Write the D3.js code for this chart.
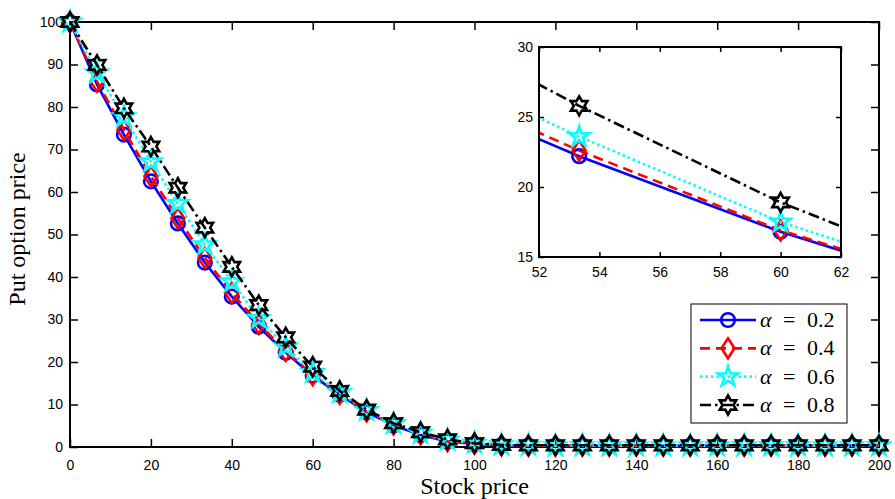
<!DOCTYPE html>
<html lang="en">
<head>
<meta charset="UTF-8">
<title>Put option price vs stock price</title>
<script src="https://d3js.org/d3.v7.min.js"></script>
<style>
  body { margin: 0; background: #fff; }
  .tick text { font-family: "Liberation Sans", Arial, sans-serif; font-size: 14px; fill: #000; }
  .tick line { stroke: #000; stroke-width: 1.5; }
  .axis-label { font-family: "Liberation Serif", "DejaVu Serif", serif; font-size: 24px; fill: #000; }
  .legend-text { font-family: "Liberation Serif", "DejaVu Serif", serif; font-size: 22px; fill: #000; }
</style>
</head>
<body>
<svg id="chart" width="895" height="499"></svg>
<script>
// grid of stock prices (200/30 spacing)
const stockPrice = [0, 6.67, 13.33, 20, 26.67, 33.33, 40, 46.67, 53.33, 60, 66.67, 73.33, 80, 86.67, 93.33, 100,
  106.67, 113.33, 120, 126.67, 133.33, 140, 146.67, 153.33, 160, 166.67, 173.33, 180, 186.67, 193.33, 200];

const alpha02 = [100, 85.3, 73.5, 62.5, 52.6, 43.4, 35.4, 28.3, 22.2, 16.8, 12.3, 8.2, 5.1, 2.8, 1.3, 0.7,
  0.4, 0.3, 0.3, 0.3, 0.3, 0.3, 0.3, 0.3, 0.3, 0.3, 0.3, 0.3, 0.3, 0.3, 0.3];
const alpha04 = [100, 86.0, 74.6, 63.7, 53.8, 44.5, 36.2, 29.0, 22.6, 16.9, 12.5, 8.4, 5.3, 3.0, 1.4, 0.8,
  0.4, 0.3, 0.3, 0.3, 0.3, 0.3, 0.3, 0.3, 0.3, 0.3, 0.3, 0.3, 0.3, 0.3, 0.3];
const alpha06 = [100, 88.0, 77.7, 67.1, 57.3, 47.6, 38.9, 30.3, 23.6, 17.5, 12.8, 8.6, 5.5, 3.2, 1.6, 0.9,
  0.5, 0.4, 0.3, 0.3, 0.3, 0.3, 0.3, 0.3, 0.3, 0.3, 0.3, 0.3, 0.3, 0.3, 0.3];
const alpha08 = [100, 89.9, 79.7, 70.7, 61.0, 51.6, 42.4, 33.4, 25.8, 18.9, 13.2, 8.8, 5.6, 3.5, 1.8, 0.9,
  0.5, 0.4, 0.4, 0.4, 0.4, 0.4, 0.4, 0.4, 0.4, 0.4, 0.4, 0.4, 0.4, 0.4, 0.4];

const alphaLabels = ["0.2", "0.4", "0.6", "0.8"];

const xTickValues = [0, 20, 40, 60, 80, 100, 120, 140, 160, 180, 200];
const yTickValues = [0, 10, 20, 30, 40, 50, 60, 70, 80, 90, 100];
const insetXTicks = [52, 54, 56, 58, 60, 62];
const insetYTicks = [15, 20, 25, 30];

// marker shapes
function starPath(n, ro, ri) {
  const pts = [];
  for (let k = 0; k < 2 * n; k++) {
    const r = k % 2 ? ri : ro;
    const a = -Math.PI / 2 + k * Math.PI / n;
    pts.push([r * Math.cos(a), r * Math.sin(a)]);
  }
  return "M" + pts.map(p => p[0].toFixed(2) + "," + p[1].toFixed(2)).join("L") + "Z";
}
const circlePath = d3.symbol(d3.symbolCircle, Math.PI * 6.8 * 6.8)();
const diamondPath = "M0,-10L6.5,0L0,10L-6.5,0Z";
const pentagramPath = starPath(5, 10.5, 4);
const hexagramPath = starPath(6, 9.5, 5.4);

const series = [
  { values: alpha02, color: "#0000ff", dash: null, marker: circlePath },
  { values: alpha04, color: "#ff0000", dash: "10,6", marker: diamondPath },
  { values: alpha06, color: "#00ffff", dash: "2.5,3", marker: pentagramPath },
  { values: alpha08, color: "#000000", dash: "11,4,2.5,4", marker: hexagramPath }
];

const svg = d3.select("#chart");
const margin = { left: 70, right: 879, top: 22, bottom: 447 };

const x = d3.scaleLinear().domain([0, 200]).range([margin.left, margin.right]);
const y = d3.scaleLinear().domain([0, 100]).range([margin.bottom, margin.top]);

function drawAxes(g, xs, ys, xt, yt, tick, xpad, ypad) {
  const [x0, x1] = xs.range();
  const [y0, y1] = ys.range();
  g.append("g").attr("transform", `translate(0,${y0})`)
    .call(d3.axisBottom(xs).tickValues(xt).tickSizeInner(-tick).tickSizeOuter(0).tickPadding(xpad))
    .call(a => a.select(".domain").remove());
  g.append("g").attr("transform", `translate(${x0},0)`)
    .call(d3.axisLeft(ys).tickValues(yt).tickSizeInner(-tick).tickSizeOuter(0).tickPadding(ypad))
    .call(a => a.select(".domain").remove());
  g.append("g").attr("transform", `translate(0,${y1})`)
    .call(d3.axisTop(xs).tickValues(xt).tickSizeInner(-tick).tickSizeOuter(0).tickFormat(""))
    .call(a => a.select(".domain").remove());
  g.append("g").attr("transform", `translate(${x1},0)`)
    .call(d3.axisRight(ys).tickValues(yt).tickSizeInner(-tick).tickSizeOuter(0).tickFormat(""))
    .call(a => a.select(".domain").remove());
  g.append("rect")
    .attr("x", x0).attr("y", y1).attr("width", x1 - x0).attr("height", y0 - y1)
    .attr("fill", "none").attr("stroke", "#000").attr("stroke-width", 2);
}

function drawSeries(g, xs, ys, clipId) {
  const line = d3.line().x((d, i) => xs(stockPrice[i])).y(d => ys(d));
  series.forEach(s => {
    const p = g.append("path")
      .datum(s.values)
      .attr("fill", "none")
      .attr("stroke", s.color)
      .attr("stroke-width", 2.6)
      .attr("d", line);
    if (s.dash) p.attr("stroke-dasharray", s.dash);
    if (clipId) p.attr("clip-path", `url(#${clipId})`);
    const [dx0, dx1] = xs.domain();
    const [dy0, dy1] = ys.domain();
    g.append("g").selectAll("path")
      .data(s.values.map((v, i) => [stockPrice[i], v])
        .filter(d => d[0] >= dx0 && d[0] <= dx1 && d[1] >= dy0 && d[1] <= dy1))
      .join("path")
      .attr("transform", d => `translate(${xs(d[0])},${ys(d[1])})`)
      .attr("d", s.marker)
      .attr("fill", "none")
      .attr("stroke", s.color)
      .attr("stroke-width", 2.6);
  });
}

// main plot
const main = svg.append("g");
drawAxes(main, x, y, xTickValues, yTickValues, 8, 13, 7);
drawSeries(main, x, y, null);

main.append("text").attr("class", "axis-label")
  .attr("x", (margin.left + margin.right) / 2).attr("y", 494)
  .attr("text-anchor", "middle").text("Stock price");
main.append("text").attr("class", "axis-label")
  .attr("transform", "translate(25,229) rotate(-90)")
  .attr("text-anchor", "middle").text("Put option price");

// inset
const xi = d3.scaleLinear().domain([52, 62]).range([539, 841]);
const yi = d3.scaleLinear().domain([15, 30]).range([257, 47]);
const inset = svg.append("g");
svg.append("defs").append("clipPath").attr("id", "insetClip")
  .append("rect").attr("x", 539).attr("y", 47).attr("width", 302).attr("height", 210);
inset.append("rect").attr("x", 539).attr("y", 47).attr("width", 302).attr("height", 210).attr("fill", "#fff");
drawSeries(inset, xi, yi, "insetClip");
drawAxes(inset, xi, yi, insetXTicks, insetYTicks, 5, 10, 6);

// legend
const legend = svg.append("g");
legend.append("rect").attr("x", 691).attr("y", 304).attr("width", 156).attr("height", 119)
  .attr("fill", "#fff").attr("stroke", "#000").attr("stroke-width", 1);
const rowY = d3.scalePoint().domain(alphaLabels).range([320, 405]);
series.forEach((s, i) => {
  const yy = rowY(alphaLabels[i]);
  const l = legend.append("line").attr("x1", 700).attr("x2", 756).attr("y1", yy).attr("y2", yy)
    .attr("stroke", s.color).attr("stroke-width", 2.6);
  if (s.dash) l.attr("stroke-dasharray", s.dash);
  legend.append("path").attr("transform", `translate(728,${yy})`).attr("d", s.marker)
    .attr("fill", "none").attr("stroke", s.color).attr("stroke-width", 2.6);
  const t = legend.append("text").attr("class", "legend-text").attr("y", yy + 7);
  t.append("tspan").attr("x", 760).attr("font-style", "italic").text("α");
  t.append("tspan").attr("x", 783).text("=");
  t.append("tspan").attr("x", 807).text(alphaLabels[i]);
});
</script>
</body>
</html>
